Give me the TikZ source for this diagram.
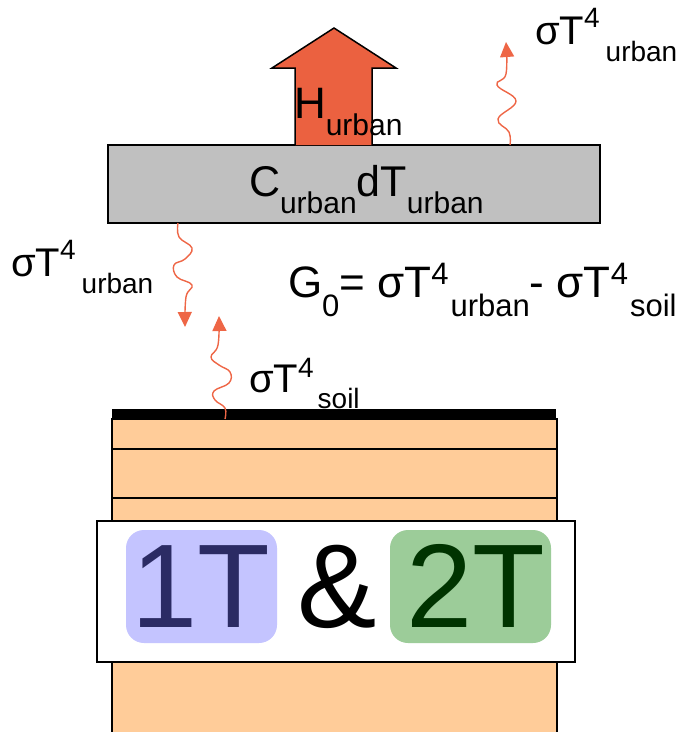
\documentclass[tikz,border=0pt]{standalone}
\usepackage{fontspec}
\setmainfont{Liberation Sans}
\usetikzlibrary{arrows.meta}
\definecolor{heatred}{RGB}{235,97,64}
\definecolor{waveline}{RGB}{238,102,70}
\definecolor{urbangray}{RGB}{192,192,192}
\definecolor{soilorange}{RGB}{255,204,153}
\definecolor{onebg}{RGB}{196,196,255}
\definecolor{onefg}{RGB}{43,43,100}
\definecolor{twobg}{RGB}{156,204,153}
\definecolor{twofg}{RGB}{0,51,0}
\newcommand{\fs}[1]{\fontsize{#1pt}{#1pt}\selectfont}
\begin{document}
\begin{tikzpicture}[x=1pt,y=-1pt,
  lbl/.style={inner sep=0pt,outer sep=0pt,anchor=base west},
  boxed/.style={draw=black,line width=1.5pt,inner sep=0pt,outer sep=0pt,anchor=north west},
  wave/.style={draw=waveline,line width=1.4pt,-{Triangle[width=14pt,length=15pt]}},
  tag/.style={rounded corners=18pt,inner sep=0pt,outer sep=0pt,anchor=north west}]
\useasboundingbox (0,0) rectangle (683,732);
\clip (0,0) rectangle (683,732);

% soil column
\node[boxed,fill=soilorange,minimum width=445pt,minimum height=320pt] (soil) at (112,419) {};
\draw[line width=1.5pt] (112,449) -- (557,449);
\draw[line width=1.5pt] (112,498) -- (557,498);
\node[fill=black,inner sep=0pt,outer sep=0pt,anchor=north west,minimum width=444pt,minimum height=10pt] (surface) at (112,409) {};

% 1T & 2T panel
\node[boxed,fill=white,minimum width=478pt,minimum height=141pt] (panel) at (97,521) {};
\node[tag,fill=onebg,minimum width=151pt,minimum height=113pt] (onebox) at (126,530) {};
\node[tag,fill=twobg,minimum width=161pt,minimum height=113pt] (twobox) at (390,530) {};
\node[inner sep=0pt,anchor=base,text=onefg] (onet) at (201,627) {\fs{119}1T};
\node[inner sep=0pt,anchor=base,text=twofg] (twot) at (476,627) {\fs{119}2T};
\node[inner sep=0pt,anchor=base] (amp) at (337,627) {\fs{119}\&};

% urban slab
\node[boxed,fill=urbangray,minimum width=492pt,minimum height=78pt] (urban) at (108,145) {};
\node[lbl] (cdt) at (249,196) {\fs{43}C\raisebox{-17pt}{\fs{30}urban}dT\raisebox{-17pt}{\fs{30}urban}};

% sensible heat arrow
\draw[fill=heatred,line width=1.5pt] (295,145) -- (295,68) -- (272,68) -- (334,28) -- (396,68) -- (372,68) -- (372,145);
\node[lbl] (hurb) at (294,118) {\fs{44}H\raisebox{-17pt}{\fs{30}urban}};

% radiation arrows
\coordinate (upS) at (510,145);
\coordinate (upE) at (506,42);
\draw[wave] plot[smooth,tension=0.7] coordinates {(upS) (509,132) (498,119) (516,101) (497,85) (506,74) (upE)};
\coordinate (dnS) at (178,223);
\coordinate (dnE) at (185,327);
\draw[wave] plot[smooth,tension=0.7] coordinates {(dnS) (179,237) (192,248) (185,259) (174,265) (177,277) (192,285) (186,297) (dnE)};
\coordinate (slS) at (225,419);
\coordinate (slE) at (219,316);
\draw[wave] plot[smooth,tension=0.7] coordinates {(slS) (225,408) (215,400) (214,391) (229,383) (230,372) (219,365) (211,357) (218,345) (slE)};

% labels
\node[lbl] (toplab) at (535,44) {\fs{40}σT\raisebox{17pt}{\fs{28}4}\hspace{6pt}\raisebox{-17pt}{\fs{28}urban}};
\node[lbl] (leftlab) at (11,276) {\fs{40}σT\raisebox{17pt}{\fs{28}4}\hspace{6pt}\raisebox{-17pt}{\fs{28}urban}};
\node[lbl] (soillab) at (249,392) {\fs{40}σT\raisebox{15pt}{\fs{28}4}\hspace{4pt}\raisebox{-16pt}{\fs{28}soil}};
\node[lbl] (geq) at (288,297) {\fs{44}G\raisebox{-19pt}{\fs{31}0}= σT\raisebox{13pt}{\fs{31}4}\hspace{2pt}\raisebox{-19pt}{\fs{31}urban}- σT\raisebox{13pt}{\fs{31}4}\hspace{2pt}\raisebox{-19pt}{\fs{31}soil}};
\end{tikzpicture}
\end{document}
